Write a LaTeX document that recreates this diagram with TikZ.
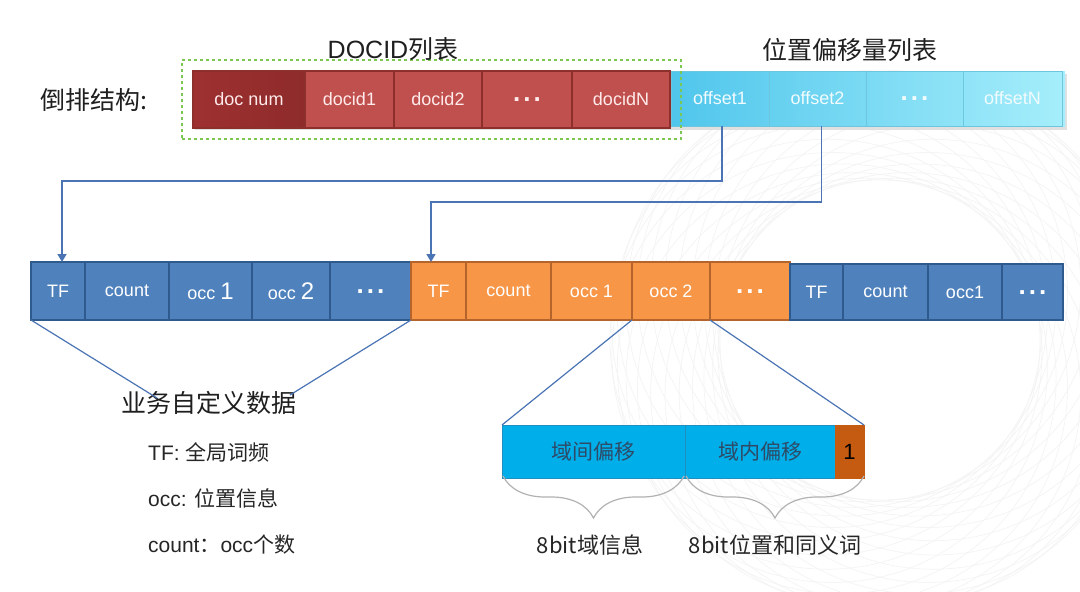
\documentclass[tikz,border=0pt]{standalone}
\usepackage{fontspec}
\setmainfont{Liberation Sans}
\newfontfamily\cjk{Noto Sans CJK SC}
\usetikzlibrary{arrows.meta,fit,decorations.pathreplacing}
\definecolor{redA}{HTML}{C0504D}
\definecolor{redB}{HTML}{8C2F2D}
\definecolor{redD}{HTML}{9E3030}
\definecolor{cyanA}{HTML}{50C6EC}
\definecolor{cyanB}{HTML}{A6EEFB}
\definecolor{cyanL}{HTML}{4AB6D6}
\definecolor{blueA}{HTML}{4F81BD}
\definecolor{blueB}{HTML}{2F5A8E}
\definecolor{orA}{HTML}{F79646}
\definecolor{orB}{HTML}{B5652B}
\definecolor{lineC}{HTML}{4A74B4}
\definecolor{fcy}{HTML}{00AEEA}
\definecolor{fcyD}{HTML}{1E8FBF}
\definecolor{forg}{HTML}{C55A11}
\definecolor{ftext}{HTML}{2E4A66}
\definecolor{gbox}{HTML}{7CC652}
\newcommand{\dotz}{\raisebox{-4pt}{\fontsize{26}{26}\selectfont\bfseries .\hspace{3pt}.\hspace{3pt}.}}
\begin{document}
\begin{tikzpicture}[x=1pt,y=-1pt,
 cell/.style={draw, line width=2.5pt, inner sep=0pt, outer sep=0pt, anchor=north west, text=white, font=\fontsize{18}{21}\selectfont},
 redcell/.style={cell, fill=redA, draw=redB, text=white!92!red},
 cyancell/.style={cell, draw=cyanL!80, line width=1pt, text=white!95!cyan},
 bluecell/.style={cell, fill=blueA, draw=blueB},
 orcell/.style={cell, fill=orA, draw=orB},
 fcell/.style={anchor=north west, inner sep=0pt, outer sep=0pt, fill=fcy, draw=fcyD, line width=0.6pt, text=ftext, font=\cjk\fontsize{21}{24}\selectfont},
 conn/.style={draw=lineC, line width=1.5pt},
 arr/.style={conn, -{Triangle[width=9pt,length=8pt]}},
 title/.style={font=\cjk\fontsize{25}{28}\selectfont, text=black!88},
 legend/.style={anchor=west, inner sep=0pt, font=\fontsize{21}{24}\selectfont, text=black!85},
 brc/.style={draw=gray!60, line width=1.2pt, decorate, decoration={brace, mirror, amplitude=42pt, aspect=0.5}},
 gdash/.style={draw=gbox, dashed, line width=1.6pt, inner sep=11pt},
]
\useasboundingbox (0,0) rectangle (1080,592);
\fill[white] (0,0) rectangle (1080,592);
% faint background circles
\begin{scope}
\clip (0,0) rectangle (1080,592);
\foreach \a in {0,15,...,345}
  \draw[gray!9, line width=0.7pt] (880,340) ++(\a:55) circle[radius=215];
\end{scope}

% ---------- top row ----------
\fill[black!12] (195,74) rectangle (1067,130);
\node[redcell, minimum width=112pt, minimum height=57pt, left color=redD, middle color=redA!95!white, right color=redD!90!black] (dn) at (193,71) {doc num};
\node[redcell, minimum width=89pt, minimum height=57pt] (d1) at (305,71) {docid1};
\node[redcell, minimum width=88pt, minimum height=57pt] (d2) at (394,71) {docid2};
\node[redcell, minimum width=90pt, minimum height=57pt] (dd) at (482,71) {\dotz};
\node[redcell, minimum width=98pt, minimum height=57pt] (dN) at (572,71) {docidN};
\shade[left color=cyanA, right color=cyanB] (671,71) rectangle (1065,126);
\node[cyancell, minimum width=98pt, minimum height=55pt] (o1) at (671,71) {offset1};
\node[cyancell, minimum width=97pt, minimum height=55pt] (o2) at (769,71) {offset2};
\node[cyancell, minimum width=97pt, minimum height=55pt] (od) at (866,71) {\dotz};
\node[cyancell, minimum width=99pt, minimum height=55pt] (oN) at (963,71) {offsetN};
\node[gdash, fit=(dn)(dN)] (g) {};
\node[title, font=\fontsize{25}{28}\selectfont] (tdoc) at (393,49) {DOCID{\cjk 列表}};
\node[title] (toff) at (850,50) {位置偏移量列表};
\node[title] (tinv) at (94,100) {倒排结构:};

% ---------- second row ----------
\node[bluecell, minimum width=54pt, minimum height=58pt] (tf1) at (31,262) {TF};
\node[bluecell, minimum width=84pt, minimum height=58pt] (c1) at (85,262) {count};
\node[bluecell, minimum width=83pt, minimum height=58pt] (oa1) at (169,262) {occ {\fontsize{24}{24}\selectfont 1}};
\node[bluecell, minimum width=78pt, minimum height=58pt] (ob1) at (252,262) {occ {\fontsize{24}{24}\selectfont 2}};
\node[bluecell, minimum width=81pt, minimum height=58pt] (e1) at (330,262) {\dotz};
\node[orcell, minimum width=55pt, minimum height=58pt] (tf2) at (411,262) {TF};
\node[orcell, minimum width=85pt, minimum height=58pt] (c2) at (466,262) {count};
\node[orcell, minimum width=81pt, minimum height=58pt] (oa2) at (551,262) {occ 1};
\node[orcell, minimum width=78pt, minimum height=58pt] (ob2) at (632,262) {occ 2};
\node[orcell, minimum width=80pt, minimum height=58pt] (e2) at (710,262) {\dotz};
\node[bluecell, minimum width=53pt, minimum height=56pt] (tf3) at (790,264) {TF};
\node[bluecell, minimum width=85pt, minimum height=56pt] (c3) at (843,264) {count};
\node[bluecell, minimum width=74pt, minimum height=56pt] (oa3) at (928,264) {occ1};
\node[bluecell, minimum width=61pt, minimum height=56pt] (e3) at (1002,264) {\dotz};

% connectors from offsets
\coordinate (k1) at (62,181);
\coordinate (k2) at (431,202);
\draw[arr] ([xshift=2pt]o1.south) |- (k1) -- (k1 |- tf1.north);
\draw[arr] ([xshift=4pt]o2.south) |- (k2) -- (k2 |- tf2.north);

% ---------- legend ----------
\node[anchor=west, inner sep=0pt, font=\cjk\fontsize{25}{28}\selectfont, text=black!88] (lt) at (121,403) {业务自定义数据};
\coordinate (l1) at (157,398);
\coordinate (l2) at (290,395);
\draw[conn, line width=1.2pt] (tf1.south west) -- (l1);
\draw[conn, line width=1.2pt] (e1.south east) -- (l2);
\node[legend] (lg1) at (148,452) {TF: {\cjk 全局词频}};
\node[legend] (lg2) at (148,498) {occ: {\cjk 位置信息}};
\node[legend] (lg3) at (148,545) {count{\cjk ：}occ{\cjk 个数}};

% ---------- bottom box ----------
\node[fcell, minimum width=183pt, minimum height=53pt] (f1) at (502,425) {域间偏移};
\node[fcell, minimum width=150pt, minimum height=53pt] (f2) at (685,425) {域内偏移};
\node[fcell, fill=forg, draw=forg, text=black, font=\fontsize{22}{24}\selectfont, minimum width=29pt, minimum height=53pt] (f3) at (835,425) {1};
\draw[conn, line width=1.2pt] (ob2.south west) -- (f1.north west);
\draw[conn, line width=1.2pt] (ob2.south east) -- (f3.north east);
\draw[brc] ([xshift=1pt,yshift=2pt]f1.south west) -- ([xshift=-1pt,yshift=2pt]f1.south east);
\draw[brc] ([xshift=1pt,yshift=2pt]f2.south west) -- ([yshift=2pt]f3.south east);
\node[font=\cjk\fontsize{22}{24}\selectfont, text=black!85] (b1) at (590,545) {8bit域信息};
\node[font=\cjk\fontsize{22}{24}\selectfont, text=black!85] (b2) at (775,545) {8bit位置和同义词};
\end{tikzpicture}
\end{document}
